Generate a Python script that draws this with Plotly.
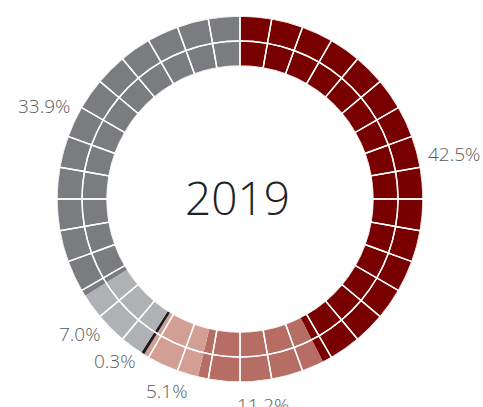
import plotly.graph_objects as go
import numpy as np

labels = ["42.5%", "11.2%", "5.1%", "0.3%", "7.0%", "33.9%"]
values = [42.5, 11.2, 5.1, 0.3, 7.0, 33.9]
colors = ["#780000", "#b56d64", "#d39e94", "#1c1c1c", "#b0b1b4", "#7b7c80"]
center_text = "2019"

vals = np.array(values)
widths = vals / vals.sum() * 360.0
starts = np.concatenate([[0], np.cumsum(widths)[:-1]])
mids = starts + widths / 2

W, H = 483, 407
cx, cy = 240, 199
R_OUT, R_IN = 183, 133

fig = go.Figure()
fig.add_trace(go.Barpolar(
    r=[1] * len(values), theta=mids, width=widths, base=0,
    marker=dict(color=colors, line=dict(width=0)),
    hoverinfo="skip", showlegend=False,
))

# white segment grid: 36 sectors x 2 rings
cell_theta = np.arange(5, 360, 10)
for b in (0, 0.5):
    fig.add_trace(go.Barpolar(
        r=[0.5] * len(cell_theta), theta=cell_theta, width=10, base=b,
        marker=dict(color="rgba(0,0,0,0)", line=dict(color="white", width=1.4)),
        hoverinfo="skip", showlegend=False,
    ))

annotations = []
for lab, m in zip(labels, mids):
    s, c = np.sin(np.radians(m)), np.cos(np.radians(m))
    if s > 0.5:
        rp, xa, ya = 191, "left", "middle"
    elif s < -0.5:
        rp, xa, ya = 192, "right", "middle"
    else:
        rp, xa, ya = 192, "center", "top"
    annotations.append(dict(
        text=lab, x=(cx + rp * s) / W, y=(H - (cy - rp * c)) / H,
        xref="paper", yref="paper", showarrow=False, xanchor=xa, yanchor=ya,
        font=dict(family="Open Sans", size=19, color="#5a5a5a", weight=300)))

annotations.append(dict(
    text=center_text, x=(cx - 3) / W, y=(H - (cy - 2)) / H, xref="paper", yref="paper",
    showarrow=False, xanchor="center", yanchor="middle",
    font=dict(family="Open Sans", size=46, color="#222222", weight=300)))

fig.update_layout(
    width=W, height=H, margin=dict(l=0, r=0, t=0, b=0),
    paper_bgcolor="white", plot_bgcolor="white",
    polar=dict(
        domain=dict(x=[(cx - R_OUT) / W, (cx + R_OUT) / W],
                    y=[(H - cy - R_OUT) / H, (H - cy + R_OUT) / H]),
        hole=R_IN / R_OUT,
        bgcolor="rgba(0,0,0,0)",
        radialaxis=dict(range=[0, 1], showticklabels=False, ticks="", showline=False,
                        showgrid=False),
        angularaxis=dict(rotation=90, direction="clockwise", showticklabels=False,
                         ticks="", showline=False, showgrid=False),
    ),
    annotations=annotations,
)
fig.write_html("out.html", config={"displayModeBar": False},
               post_script="document.body.style.margin='0';document.body.style.overflow='hidden';")
